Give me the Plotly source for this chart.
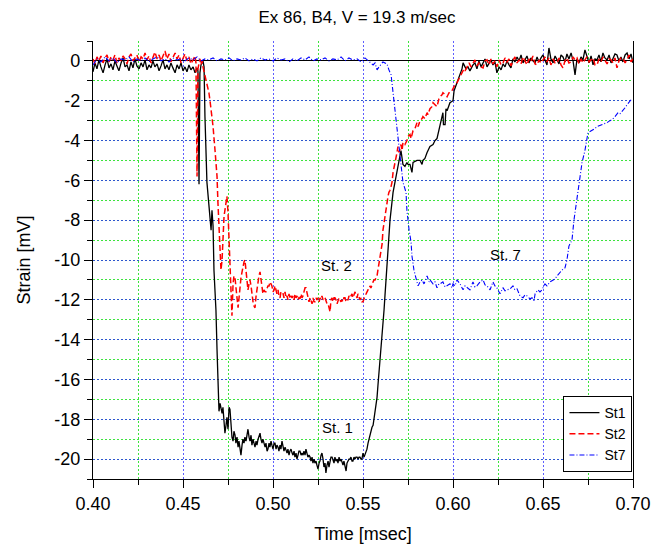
import plotly.graph_objects as go

# ---------------- data (time in msec, strain in mV) ----------------
st1_time = [
    0.4000, 0.4011, 0.4022, 0.4033, 0.4044, 0.4056, 0.4067, 0.4078, 0.4089, 0.4100,
    0.4111, 0.4122, 0.4133, 0.4144, 0.4156, 0.4167, 0.4178, 0.4189, 0.4200, 0.4211,
    0.4222, 0.4233, 0.4244, 0.4256, 0.4267, 0.4278, 0.4289, 0.4300, 0.4311, 0.4322,
    0.4333, 0.4344, 0.4356, 0.4367, 0.4378, 0.4389, 0.4400, 0.4411, 0.4422, 0.4433,
    0.4444, 0.4456, 0.4467, 0.4478, 0.4489, 0.4500, 0.4511, 0.4522, 0.4533, 0.4544,
    0.4556, 0.4567, 0.4578,
    0.4583, 0.4589, 0.4594, 0.4600, 0.4611, 0.4617, 0.4622, 0.4633, 0.4644, 0.4656,
    0.4661, 0.4667, 0.4672, 0.4683, 0.4689, 0.4694,
    0.4700, 0.4706, 0.4711, 0.4717, 0.4722, 0.4728, 0.4733, 0.4739, 0.4744, 0.4750,
    0.4756, 0.4761, 0.4767, 0.4772, 0.4778, 0.4783, 0.4789, 0.4794, 0.4800, 0.4806,
    0.4811, 0.4817, 0.4822, 0.4828, 0.4833, 0.4839, 0.4844, 0.4850, 0.4856, 0.4861,
    0.4867, 0.4872, 0.4878, 0.4883, 0.4889, 0.4894, 0.4900, 0.4906, 0.4911, 0.4917,
    0.4922, 0.4928, 0.4933, 0.4939, 0.4944, 0.4950, 0.4956, 0.4961, 0.4967, 0.4972,
    0.4978, 0.4983, 0.4989, 0.4994, 0.5000, 0.5006, 0.5011, 0.5017, 0.5022, 0.5028,
    0.5033, 0.5039, 0.5044, 0.5050, 0.5056, 0.5061, 0.5067, 0.5072, 0.5078, 0.5083,
    0.5089, 0.5094, 0.5100, 0.5106, 0.5111, 0.5117, 0.5122, 0.5128, 0.5133, 0.5139,
    0.5144, 0.5150, 0.5156, 0.5161, 0.5167, 0.5172, 0.5178, 0.5183, 0.5189, 0.5194,
    0.5200, 0.5206, 0.5211, 0.5217, 0.5222, 0.5228, 0.5233, 0.5239, 0.5244, 0.5250,
    0.5256, 0.5261, 0.5267, 0.5272, 0.5278, 0.5283, 0.5289, 0.5294, 0.5300, 0.5306,
    0.5311, 0.5317, 0.5322, 0.5328, 0.5333, 0.5339, 0.5344, 0.5350, 0.5356, 0.5361,
    0.5367, 0.5372, 0.5378, 0.5383, 0.5389, 0.5394, 0.5400, 0.5406, 0.5411, 0.5417,
    0.5422, 0.5428, 0.5433, 0.5439, 0.5444, 0.5450, 0.5456, 0.5461, 0.5467, 0.5472,
    0.5478, 0.5483, 0.5489, 0.5494, 0.5500, 0.5506, 0.5511, 0.5517, 0.5522, 0.5528,
    0.5533, 0.5539, 0.5544, 0.5550, 0.5556, 0.5561, 0.5567, 0.5572, 0.5578, 0.5583,
    0.5589, 0.5594, 0.5600, 0.5606, 0.5611, 0.5617, 0.5622, 0.5628, 0.5633, 0.5639,
    0.5644, 0.5650,
    0.5667, 0.5683, 0.5694, 0.5706, 0.5711, 0.5722, 0.5733, 0.5744, 0.5750, 0.5761,
    0.5772, 0.5778, 0.5800, 0.5817, 0.5828, 0.5833, 0.5844, 0.5856, 0.5861, 0.5872,
    0.5889, 0.5900, 0.5911, 0.5922, 0.5933, 0.5944, 0.5947, 0.5956, 0.5961, 0.5967,
    0.5983, 0.6000, 0.6006, 0.6022, 0.6033, 0.6050, 0.6056, 0.6072, 0.6083, 0.6094,
    0.6111,
    0.6122, 0.6133, 0.6144, 0.6156, 0.6167, 0.6178, 0.6189, 0.6200, 0.6211, 0.6222,
    0.6233, 0.6244, 0.6256, 0.6267, 0.6278, 0.6289, 0.6300, 0.6311, 0.6322, 0.6333,
    0.6344, 0.6356, 0.6367, 0.6378, 0.6389, 0.6400, 0.6411, 0.6422, 0.6433, 0.6444,
    0.6456, 0.6467, 0.6478, 0.6489, 0.6500, 0.6511, 0.6522, 0.6533, 0.6544, 0.6556,
    0.6567, 0.6578, 0.6589, 0.6600, 0.6611, 0.6622, 0.6633, 0.6644, 0.6656, 0.6667,
    0.6678, 0.6689, 0.6700, 0.6711, 0.6722, 0.6733, 0.6744, 0.6756, 0.6767, 0.6778,
    0.6789, 0.6800, 0.6811, 0.6822, 0.6833, 0.6844, 0.6856, 0.6867, 0.6878, 0.6889,
    0.6900, 0.6911, 0.6922, 0.6933, 0.6944, 0.6956, 0.6967, 0.6978, 0.6989, 0.7000,
]
st1_strain = [
    -0.55, -0.1, -0.4, 0.05, -0.3, -0.6, -0.2, 0.1, -0.35, -0.15,
    -0.45, 0.0, -0.25, -0.5, -0.1, 0.15, -0.3, -0.2, -0.5, -0.05,
    -0.35, 0.1, -0.25, -0.4, -0.1, -0.3, 0.05, -0.45, -0.2, -0.35,
    0.0, -0.3, -0.15, -0.5, -0.25, 0.05, -0.4, -0.2, -0.45, -0.1,
    -0.35, -0.6, -0.2, -0.4, -0.1, -0.5, -0.3, -0.55, -0.2, -0.45,
    -0.3, -0.6, -0.35,
    -0.5, -6.2, -0.6, -0.2, 0.0, -0.3, -2.8, -6.1, -7.5, -8.5,
    -7.5, -8.3, -10.5, -12.5, -14.5, -16.3,
    -17.6, -17.2, -17.5, -17.7, -17.4, -18.2, -18.7, -18.3, -17.9, -18.5,
    -17.4, -17.5, -18.4, -18.9, -19.1, -18.6, -18.8, -19.2, -18.9, -19.4,
    -19.1, -19.5, -19.8, -19.3, -19.0, -19.2, -18.9, -19.1, -18.7, -18.5,
    -18.9, -19.1, -18.8, -19.3, -19.0, -19.2, -19.4, -19.1, -19.3, -19.0,
    -18.8, -18.7, -19.0, -19.2, -19.0, -19.3, -19.4, -19.2, -19.6, -19.5,
    -19.2, -19.4, -19.1, -19.3, -19.5, -19.2, -19.2, -19.5, -19.3, -19.4,
    -19.6, -19.3, -19.5, -19.1, -19.4, -19.6, -19.4, -19.5, -19.7, -19.5,
    -19.8, -19.6, -19.5, -19.7, -19.8, -19.6, -19.9, -19.7, -20.0, -19.8,
    -19.6, -19.6, -19.8, -19.7, -19.8, -19.6, -19.8, -19.5, -19.7, -19.9,
    -19.8, -19.9, -20.1, -19.9, -20.2, -20.0, -20.2, -20.1, -20.3, -20.5,
    -20.2, -20.1, -19.8, -19.7, -20.0, -20.4, -20.2, -20.7, -20.3, -20.1,
    -20.4, -20.2, -19.9, -19.9, -20.1, -20.2, -19.9, -20.1, -20.0, -20.2,
    -19.9, -20.1, -20.0, -20.2, -20.3, -20.1, -20.4, -20.6, -20.2, -20.1,
    -20.0, -20.0, -19.9, -20.1, -20.1, -19.9, -20.0, -19.9, -19.9, -20.0,
    -19.9, -19.9, -20.0, -20.0, -19.7, -19.9, -19.8, -19.6, -19.5, -19.2,
    -19.0, -18.7, -18.6, -18.4, -18.3, -18.0, -17.7, -17.3, -16.9, -16.3,
    -15.7, -15.0, -14.6, -14.0, -13.2, -12.5, -11.8, -11.0, -10.3, -9.5,
    -8.8, -8.0,
    -6.6, -5.8, -5.4, -4.8, -4.5, -5.2, -5.3, -5.1, -5.2, -5.2,
    -5.6, -5.1, -5.0, -5.0, -5.2, -5.0, -4.9, -4.6, -4.5, -4.3,
    -4.2, -4.0, -3.9, -3.5, -3.0, -2.6, -3.2, -3.2, -2.4, -2.5,
    -2.1, -2.0, -1.5, -1.1, -0.8, -0.4, -0.1, -0.4, -0.3, -0.5,
    -0.2,
    -0.1, -0.4, 0.0, -0.3, -0.05, 0.1, -0.3, -0.1, 0.05, -0.2,
    -0.05, -0.6, -0.3, -0.45, -0.15, -0.3, 0.0, -0.2, -0.35, 0.1,
    -0.05, 0.2, 0.0, 0.3, -0.1, 0.05, 0.25, -0.1, 0.15, 0.0,
    -0.1, 0.2, -0.05, 0.15, 0.3, 0.05, -0.2, 0.65, 0.1, -0.1,
    0.25, 0.05, -0.15, 0.3, 0.2, -0.05, 0.35, 0.1, 0.4, 0.0,
    -0.7, 0.1, -0.1, 0.2, 0.05, 0.55, 0.2, -0.1, 0.25, -0.2,
    0.1, 0.05, 0.3, -0.05, 0.4, 0.15, 0.05, 0.3, -0.1, 0.15,
    0.35, 0.3, 0.0, 0.2, -0.05, 0.3, 0.4, 0.1, 0.35, -0.1,
]

st2_time = [
    0.4000, 0.4011, 0.4022, 0.4033, 0.4044, 0.4056, 0.4067, 0.4078, 0.4089, 0.4100,
    0.4111, 0.4122, 0.4133, 0.4144, 0.4156, 0.4167, 0.4178, 0.4189, 0.4200, 0.4211,
    0.4222, 0.4233, 0.4244, 0.4256, 0.4267, 0.4278, 0.4289, 0.4300, 0.4311, 0.4322,
    0.4333, 0.4344, 0.4356, 0.4367, 0.4378, 0.4389, 0.4400, 0.4411, 0.4422, 0.4433,
    0.4444, 0.4456, 0.4467, 0.4478, 0.4489, 0.4500, 0.4511, 0.4522, 0.4533, 0.4544,
    0.4556, 0.4567, 0.4572,
    0.4578, 0.4583, 0.4594, 0.4600, 0.4606, 0.4611, 0.4622, 0.4633, 0.4644, 0.4650,
    0.4661, 0.4667, 0.4678, 0.4689, 0.4694, 0.4700, 0.4706, 0.4711, 0.4717, 0.4722,
    0.4728, 0.4733, 0.4739, 0.4744, 0.4750, 0.4756, 0.4761, 0.4767, 0.4772, 0.4778,
    0.4783, 0.4789, 0.4794, 0.4800, 0.4806, 0.4811, 0.4817, 0.4822, 0.4828, 0.4833,
    0.4839, 0.4844, 0.4850, 0.4856, 0.4861, 0.4867, 0.4872, 0.4878, 0.4883, 0.4889,
    0.4894, 0.4900, 0.4906, 0.4911, 0.4917, 0.4922, 0.4928, 0.4933, 0.4939, 0.4944,
    0.4950, 0.4956, 0.4961, 0.4967, 0.4972, 0.4978, 0.4983, 0.4989, 0.4994, 0.5000,
    0.5006, 0.5011, 0.5017, 0.5022, 0.5028, 0.5033, 0.5039, 0.5044, 0.5050, 0.5056,
    0.5061, 0.5067, 0.5072, 0.5078, 0.5083, 0.5089, 0.5094, 0.5100, 0.5106, 0.5111,
    0.5117, 0.5122, 0.5128, 0.5133, 0.5139, 0.5144, 0.5150, 0.5156, 0.5161, 0.5167,
    0.5172, 0.5178, 0.5183, 0.5189, 0.5194, 0.5200, 0.5206, 0.5211, 0.5217, 0.5222,
    0.5228, 0.5233, 0.5239, 0.5244, 0.5250, 0.5256, 0.5261, 0.5267, 0.5272, 0.5278,
    0.5283, 0.5289, 0.5294, 0.5300, 0.5306, 0.5311, 0.5317, 0.5322, 0.5328, 0.5333,
    0.5339, 0.5344, 0.5350, 0.5356, 0.5361, 0.5367, 0.5372, 0.5378, 0.5383, 0.5389,
    0.5394, 0.5400, 0.5406, 0.5411, 0.5417, 0.5422, 0.5428, 0.5433, 0.5439, 0.5444,
    0.5450, 0.5456, 0.5461, 0.5467, 0.5472, 0.5478, 0.5483, 0.5489, 0.5494, 0.5500,
    0.5506, 0.5511, 0.5517, 0.5522, 0.5528, 0.5533, 0.5539, 0.5544, 0.5550, 0.5556,
    0.5561, 0.5567, 0.5572, 0.5578, 0.5583, 0.5589, 0.5594, 0.5600, 0.5606, 0.5611,
    0.5617, 0.5622, 0.5628, 0.5633, 0.5639, 0.5644, 0.5650, 0.5656, 0.5661, 0.5667,
    0.5672, 0.5678, 0.5683, 0.5689, 0.5694, 0.5700, 0.5706, 0.5711, 0.5717, 0.5722,
    0.5733, 0.5744, 0.5750, 0.5761, 0.5767, 0.5778, 0.5789, 0.5800, 0.5806, 0.5817,
    0.5828, 0.5833, 0.5844, 0.5856, 0.5861, 0.5872, 0.5883, 0.5889, 0.5900, 0.5911,
    0.5922, 0.5928, 0.5939, 0.5944, 0.5956, 0.5967, 0.5978, 0.5983, 0.5994, 0.6000,
    0.6011, 0.6022, 0.6033, 0.6039, 0.6050, 0.6061, 0.6067, 0.6078, 0.6089, 0.6100,
    0.6111,
    0.6122, 0.6133, 0.6144, 0.6156, 0.6167, 0.6178, 0.6189, 0.6200, 0.6211, 0.6222,
    0.6233, 0.6244, 0.6256, 0.6267, 0.6278, 0.6289, 0.6300, 0.6311, 0.6322, 0.6333,
    0.6344, 0.6356, 0.6367, 0.6378, 0.6389, 0.6400, 0.6411, 0.6422, 0.6433, 0.6444,
    0.6456, 0.6467, 0.6478, 0.6489, 0.6500, 0.6511, 0.6522, 0.6533, 0.6544, 0.6556,
    0.6567, 0.6578, 0.6589, 0.6600, 0.6611, 0.6622, 0.6633, 0.6644, 0.6656, 0.6667,
    0.6678, 0.6689, 0.6700, 0.6711, 0.6722, 0.6733, 0.6744, 0.6756, 0.6767, 0.6778,
    0.6789, 0.6800, 0.6811, 0.6822, 0.6833, 0.6844, 0.6856, 0.6867, 0.6878, 0.6889,
    0.6900, 0.6911, 0.6922, 0.6933, 0.6944, 0.6956, 0.6967, 0.6978, 0.6989, 0.7000,
]
st2_strain = [
    0.1, -0.15, 0.2, 0.0, 0.25, -0.1, 0.15, 0.3, -0.05, 0.2,
    0.05, 0.3, -0.1, 0.15, 0.0, 0.25, 0.1, -0.15, 0.2, 0.35,
    0.0, 0.15, 0.3, -0.05, 0.2, 0.1, 0.4, 0.05, 0.25, -0.1,
    0.2, 0.45, 0.1, 0.3, 0.0, 0.25, 0.5, 0.1, 0.35, -0.05,
    0.2, 0.4, 0.1, 0.3, -0.1, 0.15, 0.35, 0.0, 0.2, -0.15,
    0.1, 0.25, -0.1,
    -5.8, -0.4, 0.1, -0.2, 0.0, -0.3, -0.7, -1.1, -1.6, -2.0,
    -2.7, -3.3, -4.5, -5.8, -7.1, -8.5, -9.5, -10.5, -10.0, -8.5,
    -7.8, -7.5, -7.0, -6.8, -7.6, -9.0, -10.5, -11.8, -12.8, -11.2,
    -10.8, -10.9, -11.5, -11.9, -12.4, -11.9, -11.2, -10.9, -10.6, -10.3,
    -10.1, -10.0, -10.6, -11.3, -11.5, -11.2, -11.0, -11.3, -11.8, -12.1,
    -12.3, -12.4, -11.8, -11.4, -11.0, -10.8, -10.6, -10.9, -11.2, -11.7,
    -11.5, -11.6, -11.6, -11.4, -11.3, -11.3, -11.1, -11.2, -11.3, -11.6,
    -11.5, -11.3, -11.6, -11.7, -11.5, -11.8, -11.9, -11.6, -11.7, -11.7,
    -11.9, -11.6, -11.9, -11.8, -12.0, -11.7, -11.95, -11.8, -11.9, -11.8,
    -12.0, -11.7, -11.9, -11.8, -12.0, -11.9, -11.95, -11.7, -11.9, -11.8,
    -11.6, -11.4, -11.4, -11.7, -11.9, -12.1, -11.9, -12.0, -12.2, -11.9,
    -12.1, -12.1, -11.9, -12.0, -11.9, -12.1, -11.9, -12.0, -11.8, -12.0,
    -11.9, -11.9, -12.1, -12.2, -12.2, -12.4, -12.6, -12.0, -11.9, -12.1,
    -11.9, -11.9, -12.0, -12.2, -12.1, -11.9, -12.0, -12.1, -12.0, -12.1,
    -11.9, -11.9, -12.1, -12.0, -12.0, -11.8, -11.9, -11.8, -11.7, -11.9,
    -11.7, -11.6, -11.8, -11.9, -11.7, -11.9, -12.0, -11.9, -12.1, -12.1,
    -11.9, -11.8, -11.7, -11.6, -11.5, -11.5, -11.3, -11.4, -11.2, -11.1,
    -11.0, -11.0, -10.9, -10.8, -10.5, -10.1, -9.8, -9.5, -9.2, -8.5,
    -8.1, -7.8, -7.4, -7.1, -6.8, -6.6, -6.5, -6.3, -6.1, -5.6,
    -5.4, -5.1, -4.8, -4.6, -4.3, -4.6, -4.4, -4.2, -4.5, -4.1,
    -4.2, -4.0, -3.8, -3.7, -3.9, -3.5, -3.4, -3.1, -3.3, -3.0,
    -2.9, -2.8, -2.9, -2.6, -2.7, -2.4, -2.3, -2.1, -2.2, -2.3,
    -1.9, -1.8, -1.7, -1.6, -1.7, -1.8, -1.6, -1.6, -1.5, -1.4,
    -1.2, -1.1, -0.9, -0.8, -0.6, -0.4, -0.5, -0.3, -0.1, -0.3,
    -0.15,
    0.05, -0.25, -0.1, -0.3, -0.35, 0.0, 0.05, -0.2, 0.1, -0.15,
    0.0, -0.3, 0.05, -0.2, -0.1, 0.15, -0.05, 0.1, -0.25, 0.0,
    0.2, -0.1, 0.05, -0.15, 0.2, 0.0, -0.2, 0.1, -0.05, 0.25,
    -0.15, -0.2, 0.05, -0.1, 0.05, 0.2, -0.05, 0.15, -0.2, 0.1,
    -0.1, -0.1, 0.15, -0.2, -0.35, 0.0, 0.15, -0.1, -0.05, 0.2,
    0.05, 0.15, -0.15, 0.1, -0.1, 0.05, 0.2, -0.05, 0.05, 0.15,
    -0.2, -0.2, 0.1, -0.05, 0.2, 0.05, -0.15, 0.1, 0.05, -0.1,
    0.15, -0.35, 0.0, 0.15, 0.15, -0.1, 0.05, 0.3, -0.05, 0.1,
]

st7_time = [
    0.4000, 0.4022, 0.4044, 0.4067, 0.4089, 0.4111, 0.4133, 0.4156, 0.4178, 0.4200,
    0.4222, 0.4244, 0.4267, 0.4289, 0.4311, 0.4333, 0.4356, 0.4378, 0.4400, 0.4422,
    0.4444, 0.4467, 0.4489, 0.4511, 0.4533, 0.4556, 0.4578, 0.4600, 0.4622, 0.4644,
    0.4667, 0.4689, 0.4711, 0.4733, 0.4756, 0.4778, 0.4800, 0.4822, 0.4844, 0.4867,
    0.4889, 0.4911, 0.4933, 0.4956, 0.4978, 0.5000, 0.5022, 0.5044, 0.5067, 0.5089,
    0.5111, 0.5133, 0.5156, 0.5178, 0.5200, 0.5222, 0.5244, 0.5267, 0.5289, 0.5311,
    0.5333, 0.5356, 0.5378, 0.5400, 0.5422, 0.5444, 0.5467, 0.5489, 0.5511, 0.5533,
    0.5556, 0.5567, 0.5578, 0.5589, 0.5600, 0.5611, 0.5622, 0.5633, 0.5644, 0.5656,
    0.5661, 0.5672, 0.5683, 0.5694, 0.5706, 0.5717, 0.5722, 0.5739, 0.5744, 0.5756,
    0.5767, 0.5772, 0.5783, 0.5794,
    0.5800, 0.5806, 0.5817, 0.5828, 0.5839, 0.5844, 0.5856, 0.5867, 0.5872, 0.5889,
    0.5900, 0.5911, 0.5922, 0.5928, 0.5944, 0.5956, 0.5967, 0.5983, 0.5994, 0.6000,
    0.6011, 0.6022, 0.6039, 0.6056, 0.6067, 0.6078, 0.6094, 0.6111, 0.6122, 0.6133,
    0.6150, 0.6167, 0.6178, 0.6189, 0.6206, 0.6222, 0.6233, 0.6244, 0.6261, 0.6278,
    0.6289, 0.6300, 0.6317, 0.6333, 0.6344, 0.6356, 0.6372, 0.6389, 0.6400, 0.6411,
    0.6428, 0.6439, 0.6450, 0.6456, 0.6472, 0.6483, 0.6494, 0.6511, 0.6522, 0.6539,
    0.6550, 0.6567, 0.6578, 0.6594, 0.6606, 0.6622, 0.6633, 0.6644, 0.6661, 0.6672,
    0.6683, 0.6694, 0.6706, 0.6717, 0.6733, 0.6744, 0.6750, 0.6761, 0.6772, 0.6789,
    0.6800, 0.6817, 0.6828, 0.6844, 0.6856, 0.6872, 0.6883, 0.6900, 0.6917, 0.6928,
    0.6944, 0.6956, 0.6967, 0.6983, 0.6994,
]
st7_strain = [
    -0.2, 0.1, -0.05, 0.2, 0.0, 0.15, -0.1, 0.1, 0.05, 0.2,
    -0.05, 0.1, 0.0, 0.15, -0.05, 0.1, 0.2, 0.0, 0.1, -0.05,
    0.15, 0.05, 0.1, 0.0, 0.15, 0.05, 0.2, 0.0, 0.1, 0.05,
    0.15, 0.0, 0.1, 0.05, 0.15, 0.0, 0.1, 0.05, 0.15, 0.0,
    0.1, 0.0, 0.15, 0.05, 0.1, 0.0, 0.15, 0.05, 0.1, -0.05,
    0.1, 0.0, 0.15, 0.05, 0.2, 0.0, 0.1, 0.05, 0.15, 0.0,
    0.1, 0.05, 0.2, 0.0, 0.15, 0.05, 0.1, -0.05, 0.15, 0.0,
    -0.2, -0.1, -0.45, -0.3, -0.2, -0.05, -0.1, -0.15, -0.45, -0.7,
    -1.1, -2.0, -2.8, -3.8, -5.0, -5.6, -6.1, -6.6, -7.5, -8.5,
    -9.1, -9.8, -10.5, -10.9,
    -11.2, -11.3, -11.1, -11.0, -11.2, -11.1, -10.8, -11.1, -11.0, -11.2,
    -11.1, -11.4, -11.2, -11.2, -11.1, -11.35, -11.3, -11.2, -11.4, -11.2,
    -11.3, -11.0, -11.2, -11.5, -11.3, -11.4, -11.5, -11.1, -11.35, -11.3,
    -11.1, -11.0, -11.25, -11.3, -11.5, -11.1, -11.3, -11.4, -11.7, -11.4,
    -11.55, -11.5, -11.45, -11.3, -11.5, -11.45, -11.8, -11.9, -11.75, -11.8,
    -11.95, -11.9, -12.05, -11.7, -11.5, -11.6, -11.5, -11.2, -11.3, -11.1,
    -11.05, -10.95, -10.8, -10.6, -10.5, -10.4, -10.0, -9.3, -9.0, -8.0,
    -7.3, -6.5, -5.8, -5.1, -4.5, -3.9, -3.6, -3.55, -3.5, -3.4,
    -3.3, -3.25, -3.2, -3.15, -3.1, -3.0, -2.95, -2.8, -2.6, -2.65,
    -2.5, -2.35, -2.2, -2.05, -1.9,
]

series_names = ["St1", "St2", "St7"]
y_tick_values = [0, -2, -4, -6, -8, -10, -12, -14, -16, -18, -20]
y_tick_labels = ["0", "-2", "-4", "-6", "-8", "-10", "-12", "-14", "-16", "-18", "-20"]
label_text = ["St. 2", "St. 1", "St. 7"]
label_time = [0.5350, 0.5361, 0.6289]
label_strain = [-10.3, -18.4, -9.7]

assert len(st1_time) == len(st1_strain), (len(st1_time), len(st1_strain))
assert len(st2_time) == len(st2_strain), (len(st2_time), len(st2_strain))
assert len(st7_time) == len(st7_strain), (len(st7_time), len(st7_strain))

FONT = "Arial, Liberation Sans, sans-serif"
BLUE_GRID = "rgba(40,40,255,0.75)"
GREEN_GRID = "rgba(40,225,40,0.9)"

fig = go.Figure()
fig.add_trace(go.Scatter(x=st1_time, y=st1_strain, name=series_names[0], mode="lines",
                         line=dict(color="black", width=1.3)))
fig.add_trace(go.Scatter(x=st2_time, y=st2_strain, name=series_names[1], mode="lines",
                         line=dict(color="#ff0000", width=1.5, dash="6px,3px")))
fig.add_trace(go.Scatter(x=st7_time, y=st7_strain, name=series_names[2], mode="lines",
                         line=dict(color="#0000ff", width=1.1, dash="5px,2px,1px,2px")))

for txt, tx, ty in zip(label_text, label_time, label_strain):
    fig.add_annotation(x=tx, y=ty, text=txt, showarrow=False,
                       font=dict(family=FONT, size=15, color="black"))

# hide the minor grid line that falls on the open top edge of the frame
fig.add_shape(type="line", xref="paper", yref="paper", x0=0.002, x1=0.998, y0=1, y1=1,
              line=dict(color="white", width=2), layer="below")

fig.update_layout(
    width=653, height=546,
    margin=dict(l=93, r=20, t=41, b=67, autoexpand=False),
    paper_bgcolor="white", plot_bgcolor="white",
    font=dict(family=FONT, size=18, color="black"),
    title=dict(text="Ex 86, B4, V = 19.3 m/sec", x=357 / 653, xanchor="center",
               y=1 - 17 / 546, yanchor="middle", font=dict(family=FONT, size=17),
               automargin=False),
    legend=dict(x=0.999, xanchor="right", y=0.016, yanchor="bottom",
                bgcolor="white", bordercolor="black", borderwidth=1,
                font=dict(family=FONT, size=14), tracegroupgap=0, itemwidth=30),
    xaxis=dict(
        range=[0.40, 0.70], tick0=0.40, dtick=0.05, tickformat=".2f",
        ticks="outside", ticklen=8, tickwidth=1, tickcolor="black",
        showline=True, linecolor="black", linewidth=1.2, automargin=False,
        showgrid=True, gridcolor=BLUE_GRID, griddash="2px,2px", gridwidth=1,
        zeroline=False, layer="above traces",
        minor=dict(tick0=0.40, dtick=0.025, ticks="outside", ticklen=5, tickcolor="black",
                   showgrid=True, gridcolor=GREEN_GRID, griddash="2px,2px", gridwidth=1),
        title=dict(text="Time [msec]", font=dict(family=FONT, size=18), standoff=14),
        tickfont=dict(family=FONT, size=18),
    ),
    yaxis=dict(
        range=[-21, 1], tickmode="array", tickvals=y_tick_values, ticktext=y_tick_labels,
        ticks="outside", ticklen=8, tickwidth=1, tickcolor="black",
        showline=True, linecolor="black", linewidth=1.2, mirror=True, automargin=False,
        showgrid=True, gridcolor=BLUE_GRID, griddash="2px,2px", gridwidth=1,
        zeroline=True, zerolinecolor="black", zerolinewidth=1.2,
        minor=dict(tick0=-21, dtick=1, ticks="outside", ticklen=5, tickcolor="black",
                   showgrid=True, gridcolor=GREEN_GRID, griddash="2px,2px", gridwidth=1),
        title=dict(text="Strain [mV]", font=dict(family=FONT, size=18), standoff=18),
        tickfont=dict(family=FONT, size=18),
    ),
)

fig.write_html("out.html")
